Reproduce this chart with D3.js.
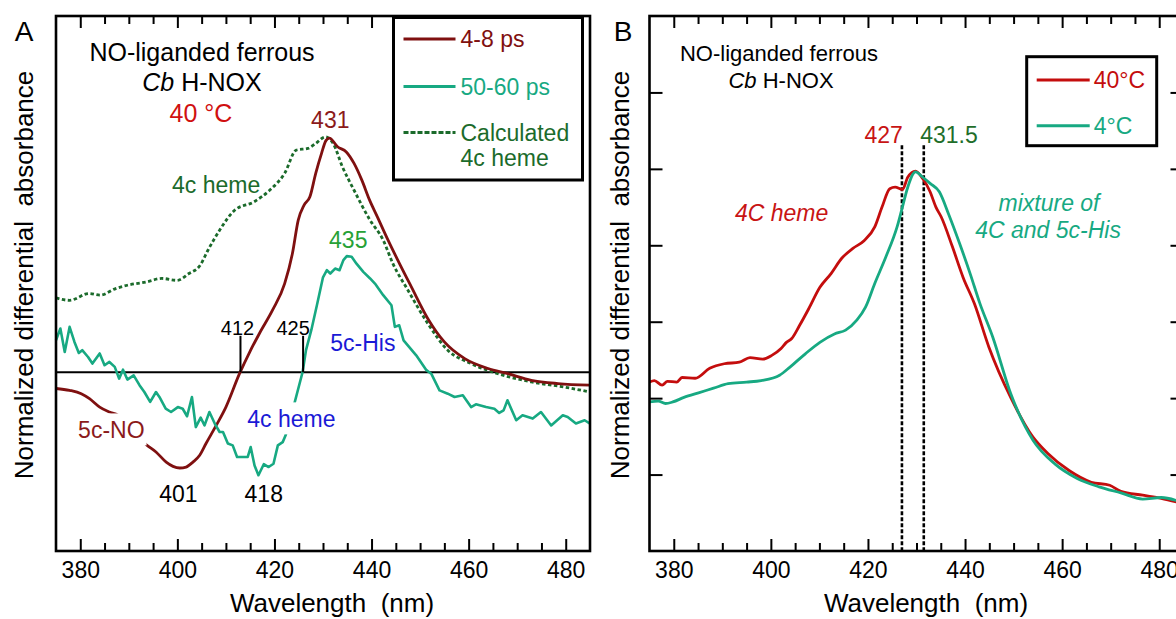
<!DOCTYPE html>
<html>
<head>
<meta charset="utf-8">
<script src="https://cdn.jsdelivr.net/npm/d3@7"></script>
<style>
  body { margin: 0; background: #fff; }
  svg { display: block; font-family: "Liberation Sans", Arial, sans-serif; }
  text { white-space: pre; }
</style>
</head>
<body>
<script>
// ---- data ----
const xMajor = [380, 400, 420, 440, 460, 480];
const xMinor = [385, 390, 395, 405, 410, 415, 425, 430, 435, 445, 450, 455, 465, 470, 475];
const yTicksB = [1, 2, 3, 4, 5, 6];

// panel A, 4-8 ps
const wl48 = [375, 377.8, 380.2, 381.9, 384, 386, 387.8, 390, 392, 393.6, 395.6, 397.7, 399.1, 400.5, 401.8, 403.2, 404.6, 405.9, 408, 410, 412.8, 414.9, 416.9, 419.6, 422.1, 423.7, 424.9, 426.1, 427.3, 428.5, 429.7, 430.6, 431.3, 433.0, 434.8, 436.4, 438, 439.6, 441.2, 443.4, 445.4, 448.2, 451.6, 455, 459.2, 464, 468.1, 472.9, 478.4, 485];
const abs48 = [-0.069, -0.077, -0.091, -0.112, -0.148, -0.169, -0.183, -0.235, -0.275, -0.308, -0.339, -0.382, -0.400, -0.407, -0.403, -0.382, -0.353, -0.303, -0.226, -0.148, -0.006, 0.086, 0.165, 0.264, 0.377, 0.505, 0.647, 0.711, 0.746, 0.846, 0.931, 0.985, 0.996, 0.959, 0.937, 0.888, 0.817, 0.732, 0.661, 0.562, 0.477, 0.363, 0.228, 0.129, 0.058, 0.016, -0.006, -0.034, -0.048, -0.055];

// panel A, 50-60 ps
const wl5060 = [375, 375.9, 376.8, 377.8, 378.8, 379.7, 380.4, 381.6, 382.5, 384, 385, 386, 387.1, 388, 388.8, 389.7, 391, 392.2, 393.2, 394.4, 395.6, 396.3, 397.6, 398.7, 400.1, 401.1, 402, 403, 403.8, 404.8, 405.6, 406.6, 407.7, 408.7, 409.4, 410.4, 411.4, 412.3, 413.5, 414.5, 415.1, 415.9, 416.7, 417.8, 418.8, 419.8, 420.7, 421.7, 422.3, 423.2, 424.1, 425.8, 426.5, 427.6, 428.8, 430.0, 430.8, 431.5, 432.5, 433.4, 434.2, 434.9, 435.9, 436.9, 438.3, 439.7, 440.7, 442.4, 444.1, 444.8, 445.7, 446.6, 449.2, 451.3, 452.3, 454, 455.7, 457.1, 458.8, 460.5, 461.5, 463.6, 465.3, 466.3, 467.2, 468, 469.8, 471.1, 473.2, 474.9, 477, 479.4, 480.4, 482.1, 483.9, 485];
const abs5060 = [0.136, 0.186, 0.086, 0.193, 0.129, 0.082, 0.094, 0.065, 0.037, 0.080, 0.030, 0.044, 0.023, -0.027, 0.011, -0.031, -0.013, -0.055, -0.084, -0.126, -0.084, -0.105, -0.155, -0.169, -0.148, -0.155, -0.187, -0.105, -0.233, -0.193, -0.226, -0.169, -0.218, -0.254, -0.254, -0.303, -0.311, -0.360, -0.360, -0.360, -0.318, -0.396, -0.438, -0.391, -0.403, -0.389, -0.311, -0.297, -0.268, -0.200, -0.133, 0.001, 0.094, 0.180, 0.290, 0.404, 0.434, 0.420, 0.441, 0.434, 0.477, 0.494, 0.491, 0.462, 0.427, 0.399, 0.377, 0.328, 0.285, 0.193, 0.200, 0.136, 0.072, 0.009, -0.006, -0.077, -0.091, -0.105, -0.098, -0.148, -0.136, -0.148, -0.155, -0.173, -0.162, -0.119, -0.204, -0.183, -0.197, -0.169, -0.226, -0.183, -0.190, -0.218, -0.204, -0.218];

// panel A, calculated 4c heme
const wlCalc = [375, 377.8, 381.8, 384.1, 387.3, 389.7, 393.6, 396.8, 399.9, 402.4, 404.7, 406.3, 408.7, 411.8, 415.8, 419, 422.1, 424.5, 426.9, 428.5, 430.5, 432.1, 434, 436.4, 439.6, 442.4, 444.4, 447.5, 451.6, 455.7, 460.5, 466, 472.9, 479.7, 485];
const absCalc = [0.316, 0.306, 0.335, 0.328, 0.356, 0.370, 0.384, 0.399, 0.391, 0.420, 0.455, 0.519, 0.604, 0.689, 0.725, 0.774, 0.846, 0.945, 0.952, 0.973, 1.001, 0.973, 0.874, 0.774, 0.650, 0.562, 0.462, 0.349, 0.207, 0.094, 0.037, -0.006, -0.041, -0.063, -0.084];

// panel B, 40 °C
const wl40 = [375, 376, 377.6, 378.7, 380.6, 381.7, 384.4, 387.4, 390.4, 393.5, 395.7, 398.3, 400.2, 402.1, 403.2, 404.3, 405.9, 407.8, 410.1, 412.4, 414.6, 416.9, 419.2, 421.4, 422.9, 424.5, 425.6, 427.1, 428.2, 429.8, 431.3, 432.8, 434.0, 435.1, 437.4, 439.6, 441.9, 444.9, 449.4, 454, 457, 461.5, 466, 469.8, 472.1, 476.6, 480.4, 485];
const abs40 = [2.21, 2.23, 2.17, 2.22, 2.21, 2.27, 2.26, 2.39, 2.45, 2.47, 2.53, 2.51, 2.56, 2.65, 2.73, 2.78, 2.95, 3.17, 3.45, 3.63, 3.83, 3.96, 4.06, 4.24, 4.50, 4.74, 4.76, 4.73, 4.89, 4.97, 4.87, 4.70, 4.50, 4.37, 3.98, 3.58, 3.24, 2.67, 2.01, 1.49, 1.28, 1.05, 0.90, 0.86, 0.78, 0.73, 0.69, 0.62];

// panel B, 4 °C
const wl4 = [375, 376.8, 378.3, 379.8, 382.1, 385.1, 388.2, 391.2, 395, 398, 401.8, 404, 407.1, 410.1, 413.1, 415.4, 417.7, 419.5, 421.4, 423.7, 426, 427.1, 428.2, 429.8, 431.3, 432.8, 434.7, 436.6, 438.9, 441.1, 443, 445.7, 449.4, 454, 458.5, 463.1, 467.6, 472.1, 476.6, 480.4, 485];
const abs4 = [1.95, 1.96, 1.93, 1.95, 2.01, 2.07, 2.13, 2.19, 2.21, 2.23, 2.30, 2.41, 2.58, 2.73, 2.84, 2.89, 3.02, 3.19, 3.50, 3.85, 4.24, 4.50, 4.76, 4.96, 4.89, 4.81, 4.70, 4.41, 4.02, 3.62, 3.25, 2.80, 2.06, 1.45, 1.14, 0.95, 0.84, 0.76, 0.68, 0.70, 0.63];

const peaksB = [427, 431.5];

// ---- layout ----
const W = 1176, H = 619;
const pw = 534, ph = 535, plotTop = 16;
const leftA = 56, leftB = 649.5;

const c48 = '#7f1010', c5060 = '#17a982', cCalc = '#1b6b2b';
const c40 = '#c40d0d', c4 = '#17a982';

const svg = d3.select('body').append('svg')
    .attr('width', W)
    .attr('height', H);

const xA = d3.scaleLinear().domain([375, 485]).range([0, pw]);
const yA = d3.scaleLinear().domain([-0.76, 1.515]).range([ph, 0]);
const xB = d3.scaleLinear().domain([375, 485]).range([0, pw]);
const yB = d3.scaleLinear().domain([0, 7]).range([ph, 0]);

const gA = svg.append('g').attr('transform', `translate(${leftA},${plotTop})`);
const gB = svg.append('g').attr('transform', `translate(${leftB},${plotTop})`);

function xAxes(g, x) {
    const bottom = g.append('g').attr('transform', `translate(0,${ph})`);
    bottom.call(d3.axisBottom(x).tickValues(xMajor).tickSizeInner(-12).tickSizeOuter(0)
        .tickPadding(11).tickFormat(d3.format('d')));
    bottom.append('g').call(d3.axisBottom(x).tickValues(xMinor).tickSizeInner(-8).tickSizeOuter(0).tickFormat(''));
    const topAx = g.append('g');
    topAx.call(d3.axisTop(x).tickValues(xMajor).tickSizeInner(-12).tickSizeOuter(0).tickFormat(''));
    topAx.append('g').call(d3.axisTop(x).tickValues(xMinor).tickSizeInner(-8).tickSizeOuter(0).tickFormat(''));
}

function styleAxes(g) {
    g.selectAll('.domain').remove();
    g.selectAll('.tick line').attr('stroke', '#000').attr('stroke-width', 2);
    g.selectAll('.tick text').attr('fill', '#000').style('font-size', '23px')
        .style('font-family', '"Liberation Sans", Arial, sans-serif');
}

function frame(g) {
    g.append('rect').attr('width', pw).attr('height', ph)
        .attr('fill', 'none').attr('stroke', '#000').attr('stroke-width', 2.6);
}

function series(wl, vals) {
    return wl.map((w, i) => ({w, v: vals[i]}));
}

// ---------- panel A ----------
xAxes(gA, xA);
styleAxes(gA);

// zero line
gA.append('line')
    .attr('x1', 0).attr('x2', pw)
    .attr('y1', yA(0)).attr('y2', yA(0))
    .attr('stroke', '#000').attr('stroke-width', 2);

const lineA = d3.line().x(d => xA(d.w)).y(d => yA(d.v));

gA.append('path').datum(series(wlCalc, absCalc))
    .attr('fill', 'none').attr('stroke', cCalc).attr('stroke-width', 2.8)
    .attr('stroke-dasharray', '3.5,2.5')
    .attr('d', lineA.curve(d3.curveMonotoneX));

gA.append('path').datum(series(wl48, abs48))
    .attr('fill', 'none').attr('stroke', c48).attr('stroke-width', 2.8)
    .attr('d', lineA.curve(d3.curveMonotoneX));

gA.append('path').datum(series(wl5060, abs5060))
    .attr('fill', 'none').attr('stroke', c5060).attr('stroke-width', 2.6)
    .attr('stroke-linejoin', 'round')
    .attr('d', lineA.curve(d3.curveLinear));

// crossing markers
const crossA = [{w: 413, label: '412', dx: -3}, {w: 425.9, label: '425', dx: -10}];
crossA.forEach(c => {
    gA.append('line')
        .attr('x1', xA(c.w)).attr('x2', xA(c.w))
        .attr('y1', yA(0.155)).attr('y2', yA(0))
        .attr('stroke', '#000').attr('stroke-width', 2);
    gA.append('text')
        .attr('x', xA(c.w) + c.dx).attr('y', yA(0.19)).attr('dy', '0.35em')
        .attr('text-anchor', 'middle').style('font-size', '20px')
        .text(c.label);
});

// labels
const labelsA = [
    {w: 431.5, v: 1.072, t: '431', c: '#8b1a1a'},
    {w: 435.2, v: 0.562, t: '435', c: '#27a136'},
    {w: 408, v: 0.796, t: '4c heme', c: cCalc},
    {w: 438.2, v: 0.123, t: '5c-His', c: '#1a1ad6'},
    {w: 386.4, v: -0.247, t: '5c-NO', c: '#8b1a1a', bg: true},
    {w: 423.5, v: -0.2, t: '4c heme', c: '#1a1ad6', bg: true},
    {w: 400.2, v: -0.519, t: '401', c: '#000'},
    {w: 417.8, v: -0.519, t: '418', c: '#000'}
];
labelsA.forEach(l => {
    const t = gA.append('text')
        .attr('x', xA(l.w)).attr('y', yA(l.v)).attr('dy', '0.35em')
        .attr('text-anchor', 'middle').attr('fill', l.c)
        .style('font-size', '23px')
        .text(l.t);
    if (l.bg) {
        const b = t.node().getBBox();
        gA.insert('rect', () => t.node())
            .attr('x', b.x - 2).attr('y', b.y - 4)
            .attr('width', b.width + 4).attr('height', b.height + 6)
            .attr('fill', '#fff');
    }
});

// title block
const tA = gA.append('g').attr('text-anchor', 'middle').style('font-size', '25px');
tA.append('text').attr('x', 146).attr('y', 36).attr('dy', '0.35em').text('NO-liganded ferrous');
const cbA = tA.append('text').attr('x', 146).attr('y', 66).attr('dy', '0.35em');
cbA.append('tspan').style('font-style', 'italic').text('Cb');
cbA.append('tspan').text(' H-NOX');
tA.append('text').attr('x', 145).attr('y', 97).attr('dy', '0.35em').attr('fill', '#d01010').text('40 °C');

// legend A
const legA = gA.append('g').attr('transform', 'translate(337.5,1.5)');
legA.append('rect').attr('width', 189).attr('height', 162.5)
    .attr('fill', '#fff').attr('stroke', '#000').attr('stroke-width', 3);
const legItemsA = [
    {lines: ['4-8 ps'], c: c48, dash: null, y: 21.5},
    {lines: ['50-60 ps'], c: c5060, dash: null, y: 69},
    {lines: ['Calculated', '4c heme'], c: cCalc, dash: '5,2', y: 115}
];
legItemsA.forEach(it => {
    legA.append('line').attr('x1', 10).attr('x2', 62).attr('y1', it.y).attr('y2', it.y)
        .attr('stroke', it.c).attr('stroke-width', 3)
        .attr('stroke-dasharray', it.dash);
    it.lines.forEach((s, i) => {
        legA.append('text').attr('x', 67).attr('y', it.y + i * 25.5).attr('dy', '0.35em')
            .attr('fill', it.c).style('font-size', '23px').text(s);
    });
});

frame(gA);

// ---------- panel B ----------
xAxes(gB, xB);
gB.append('g').call(d3.axisLeft(yB).tickValues(yTicksB).tickSizeInner(-13).tickSizeOuter(0).tickFormat(''));
gB.append('g').attr('transform', `translate(${pw},0)`)
    .call(d3.axisRight(yB).tickValues(yTicksB).tickSizeInner(-13).tickSizeOuter(0).tickFormat(''));
styleAxes(gB);

const lineB = d3.line().x(d => xB(d.w)).y(d => yB(d.v)).curve(d3.curveMonotoneX);

// peak markers
gB.selectAll('line.peak').data(peaksB).enter().append('line')
    .attr('class', 'peak')
    .attr('x1', d => xB(d)).attr('x2', d => xB(d))
    .attr('y1', yB(5.31)).attr('y2', ph)
    .attr('stroke', '#000').attr('stroke-width', 2.6)
    .attr('stroke-dasharray', '4,2');

gB.append('path').datum(series(wl40, abs40))
    .attr('fill', 'none').attr('stroke', c40).attr('stroke-width', 2.8)
    .attr('d', lineB);
gB.append('path').datum(series(wl4, abs4))
    .attr('fill', 'none').attr('stroke', c4).attr('stroke-width', 2.8)
    .attr('d', lineB);

const labelsB = [
    {w: 423.25, v: 5.45, t: '427', c: '#c81414', it: false},
    {w: 436.7, v: 5.45, t: '431.5', c: '#1f6e2a', it: false},
    {w: 402.2, v: 4.42, t: '4C heme', c: '#c81414', it: true},
    {w: 457.3, v: 4.56, t: 'mixture of', c: '#17a982', it: true},
    {w: 457.1, v: 4.2, t: '4C and 5c-His', c: '#17a982', it: true}
];
labelsB.forEach(l => {
    gB.append('text')
        .attr('x', xB(l.w)).attr('y', yB(l.v)).attr('dy', '0.35em')
        .attr('text-anchor', 'middle').attr('fill', l.c)
        .style('font-size', '23px').style('font-style', l.it ? 'italic' : 'normal')
        .text(l.t);
});

const tB = gB.append('g').attr('text-anchor', 'middle').style('font-size', '22px');
tB.append('text').attr('x', 129.5).attr('y', 37).attr('dy', '0.35em').text('NO-liganded ferrous');
const cbB = tB.append('text').attr('x', 131.5).attr('y', 64).attr('dy', '0.35em');
cbB.append('tspan').style('font-style', 'italic').text('Cb');
cbB.append('tspan').text(' H-NOX');

// legend B
const legB = gB.append('g').attr('transform', 'translate(377.2,40.7)');
legB.append('rect').attr('width', 130).attr('height', 89)
    .attr('fill', '#fff').attr('stroke', '#000').attr('stroke-width', 3);
const legItemsB = [
    {t: '40°C', c: c40, y: 23.3},
    {t: '4°C', c: c4, y: 69}
];
legItemsB.forEach(it => {
    legB.append('line').attr('x1', 10).attr('x2', 63).attr('y1', it.y).attr('y2', it.y)
        .attr('stroke', it.c).attr('stroke-width', 3);
    legB.append('text').attr('x', 67).attr('y', it.y).attr('dy', '0.35em')
        .attr('fill', it.c).style('font-size', '23px').text(it.t);
});

frame(gB);

// ---------- panel letters and axis titles ----------
svg.append('text').attr('x', 24).attr('y', 41).attr('text-anchor', 'middle')
    .style('font-size', '28px').text('A');
svg.append('text').attr('x', 623).attr('y', 41).attr('text-anchor', 'middle')
    .style('font-size', '28px').text('B');

[{cx: 24}, {cx: 620}].forEach(p => {
    svg.append('text')
        .attr('transform', `translate(${p.cx},275) rotate(-90)`)
        .attr('dy', '0.35em').attr('text-anchor', 'middle')
        .style('font-size', '26px')
        .text('Normalized differential  absorbance');
});

[{cx: 332}, {cx: 926}].forEach(p => {
    svg.append('text')
        .attr('x', p.cx).attr('y', 603).attr('dy', '0.35em')
        .attr('text-anchor', 'middle')
        .style('font-size', '26px')
        .text('Wavelength  (nm)');
});
</script>
</body>
</html>
